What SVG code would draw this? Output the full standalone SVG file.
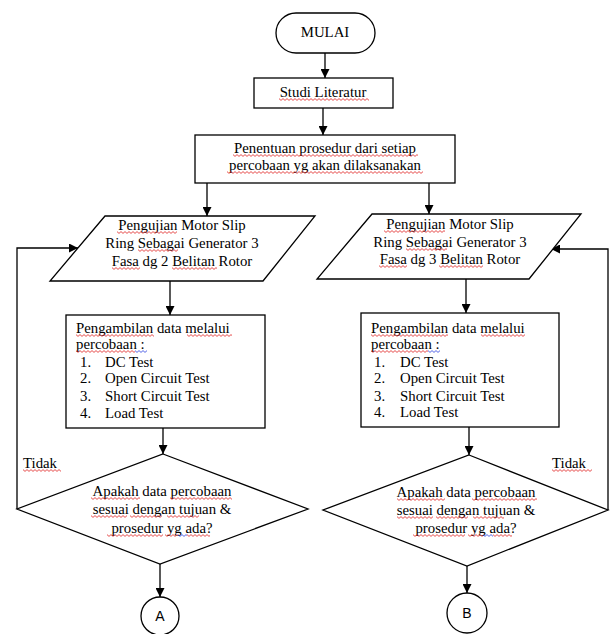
<svg xmlns="http://www.w3.org/2000/svg" width="612" height="634" viewBox="0 0 612 634">
<defs>
<style>
.s{fill:#fff;stroke:#000;stroke-width:1.3}
.t{font-family:"Liberation Serif","Times New Roman",serif;font-size:14.8px;fill:#000}
.c{text-anchor:middle}
.l{fill:none;stroke:#000;stroke-width:1.3}
.cl{font-family:"Liberation Sans",Arial,sans-serif;font-size:14px;fill:#000;text-anchor:middle}
.w{fill:url(#wv)}
.b{fill:url(#wb)}
</style>
<marker id="ah" viewBox="0 0 10 10" refX="10" refY="5" markerWidth="9" markerHeight="9" markerUnits="userSpaceOnUse" orient="auto">
<path d="M0,0 L10,5 L0,10 Z" fill="#000"/>
</marker>
<pattern id="wv" patternUnits="userSpaceOnUse" width="4" height="3">
<path d="M0,0.6 L2,2.4 L4,0.6" fill="none" stroke="#e0201e" stroke-width="0.8"/>
</pattern>
<pattern id="wb" patternUnits="userSpaceOnUse" width="4" height="3">
<path d="M0,0.6 L2,2.4 L4,0.6" fill="none" stroke="#2a3fe0" stroke-width="0.8"/>
</pattern>
</defs>
<rect width="612" height="634" fill="#fff"/>
<g id="connectors">
<path class="l" d="M325,53 V78" marker-end="url(#ah)"/>
<path class="l" d="M323,108 V135" marker-end="url(#ah)"/>
<path class="l" d="M207,183 V216" marker-end="url(#ah)"/>
<path class="l" d="M429,183 V214" marker-end="url(#ah)"/>
<path class="l" d="M170,281 V315" marker-end="url(#ah)"/>
<path class="l" d="M466,279 V313" marker-end="url(#ah)"/>
<path class="l" d="M163,428 V454" marker-end="url(#ah)"/>
<path class="l" d="M469,427 V455" marker-end="url(#ah)"/>
<path class="l" d="M160,564 V597" marker-end="url(#ah)"/>
<path class="l" d="M467,566 V593" marker-end="url(#ah)"/>
<path class="l" d="M17,509 V248 H78" marker-end="url(#ah)"/>
<path class="l" d="M608,510 V249 H551" marker-end="url(#ah)"/>
</g>
<g id="mulai">
<rect class="s" x="276" y="13" width="99" height="40" rx="20"/>
<text class="t c" x="325" y="37">MULAI</text>
</g>
<g id="studi">
<rect class="s" x="254" y="78" width="139" height="30"/>
<text class="t c" x="323" y="97">Studi Literatur</text>
</g>
<g id="penentuan">
<rect class="s" x="195" y="135" width="260" height="48"/>
<text class="t c" x="325" y="153">Penentuan prosedur dari setiap</text>
<text class="t c" x="325" y="170">percobaan yg akan dilaksanakan</text>
</g>
<g id="uji2">
<polygon class="s" points="105,216 315,216 263,281 50,281"/>
<text class="t c" x="182" y="230">Pengujian Motor Slip</text>
<text class="t c" x="182" y="248">Ring Sebagai Generator 3</text>
<text class="t c" x="182" y="266">Fasa dg 2 Belitan Rotor</text>
</g>
<g id="uji3">
<polygon class="s" points="372,214 581,214 529,279 317,279"/>
<text class="t c" x="450" y="229">Pengujian Motor Slip</text>
<text class="t c" x="450" y="247">Ring Sebagai Generator 3</text>
<text class="t c" x="450" y="264">Fasa dg 3 Belitan Rotor</text>
</g>
<g id="data2">
<rect class="s" x="66" y="315" width="199" height="113"/>
<text class="t" x="76" y="333">Pengambilan data melalui</text>
<text class="t" x="76" y="349">percobaan :</text>
<text class="t" x="80" y="367">1.</text><text class="t" x="105" y="367">DC Test</text>
<text class="t" x="80" y="383">2.</text><text class="t" x="105" y="383">Open Circuit Test</text>
<text class="t" x="80" y="401">3.</text><text class="t" x="105" y="401">Short Circuit Test</text>
<text class="t" x="80" y="418">4.</text><text class="t" x="105" y="418">Load Test</text>
</g>
<g id="data3">
<rect class="s" x="361" y="313" width="198" height="114"/>
<text class="t" x="371" y="333">Pengambilan data melalui</text>
<text class="t" x="371" y="349">percobaan :</text>
<text class="t" x="374" y="367">1.</text><text class="t" x="400" y="367">DC Test</text>
<text class="t" x="374" y="383">2.</text><text class="t" x="400" y="383">Open Circuit Test</text>
<text class="t" x="374" y="401">3.</text><text class="t" x="400" y="401">Short Circuit Test</text>
<text class="t" x="374" y="417">4.</text><text class="t" x="400" y="417">Load Test</text>
</g>
<g id="cek2">
<polygon class="s" points="163,454 308,509 160,564 17,509"/>
<text class="t c" x="162" y="496">Apakah data percobaan</text>
<text class="t c" x="162" y="514">sesuai dengan tujuan &amp;</text>
<text class="t c" x="162" y="533">prosedur yg  ada?</text>
</g>
<g id="cek3">
<polygon class="s" points="469,455 608,510 467,566 323,510"/>
<text class="t c" x="466" y="497">Apakah data percobaan</text>
<text class="t c" x="466" y="515">sesuai dengan tujuan &amp;</text>
<text class="t c" x="466" y="533">prosedur yg  ada?</text>
</g>
<g id="labels">
<text class="t" x="23" y="468">Tidak</text>
<text class="t" x="552" y="468">Tidak</text>
</g>
<g id="conA">
<circle class="s" cx="160" cy="616" r="19"/>
<text class="cl" x="160" y="621">A</text>
</g>
<g id="conB">
<circle class="s" cx="467" cy="613" r="20"/>
<text class="cl" x="467" y="618">B</text>
</g>
<g id="spellmarks">
<rect class="w" transform="translate(279,98)" width="90" height="3"/>
<rect class="w" transform="translate(233,154)" width="185" height="3"/>
<rect class="w" transform="translate(227,171)" width="196" height="3"/>
<rect class="w" transform="translate(117,231)" width="60" height="3"/>
<rect class="w" transform="translate(138,249)" width="40" height="3"/>
<rect class="w" transform="translate(112,267)" width="28" height="3"/>
<rect class="w" transform="translate(172,267)" width="45" height="3"/>
<rect class="w" transform="translate(384,230)" width="61" height="3"/>
<rect class="w" transform="translate(406,248)" width="41" height="3"/>
<rect class="w" transform="translate(379,265)" width="28" height="3"/>
<rect class="w" transform="translate(439,265)" width="44" height="3"/>
<rect class="w" transform="translate(76,334)" width="78" height="3"/>
<rect class="w" transform="translate(187,334)" width="45" height="3"/>
<rect class="w" transform="translate(76,350)" width="59" height="3"/>
<rect class="b" transform="translate(135,350)" width="12" height="3"/>
<rect class="w" transform="translate(371,334)" width="77" height="3"/>
<rect class="w" transform="translate(481,334)" width="44" height="3"/>
<rect class="w" transform="translate(371,350)" width="57" height="3"/>
<rect class="b" transform="translate(428,350)" width="12" height="3"/>
<rect class="w" transform="translate(23,469)" width="38" height="3"/>
<rect class="w" transform="translate(552,469)" width="40" height="3"/>
<rect class="w" transform="translate(91,497)" width="49" height="3"/>
<rect class="w" transform="translate(170,497)" width="62" height="3"/>
<rect class="w" transform="translate(91,515)" width="36" height="3"/>
<rect class="w" transform="translate(130,515)" width="32" height="3"/>
<rect class="w" transform="translate(167,515)" width="32" height="3"/>
<rect class="w" transform="translate(107,534)" width="56" height="3"/>
<rect class="w" transform="translate(165,534)" width="13" height="3"/>
<rect class="b" transform="translate(178,534)" width="9" height="3"/>
<rect class="w" transform="translate(187,534)" width="23" height="3"/>
<rect class="w" transform="translate(397,498)" width="48" height="3"/>
<rect class="w" transform="translate(472,498)" width="65" height="3"/>
<rect class="w" transform="translate(397,516)" width="36" height="3"/>
<rect class="w" transform="translate(436,516)" width="32" height="3"/>
<rect class="w" transform="translate(473,516)" width="31" height="3"/>
<rect class="w" transform="translate(413,534)" width="52" height="3"/>
<rect class="w" transform="translate(468,534)" width="15" height="3"/>
<rect class="b" transform="translate(483,534)" width="10" height="3"/>
<rect class="w" transform="translate(493,534)" width="19" height="3"/>
</g>
</svg>
